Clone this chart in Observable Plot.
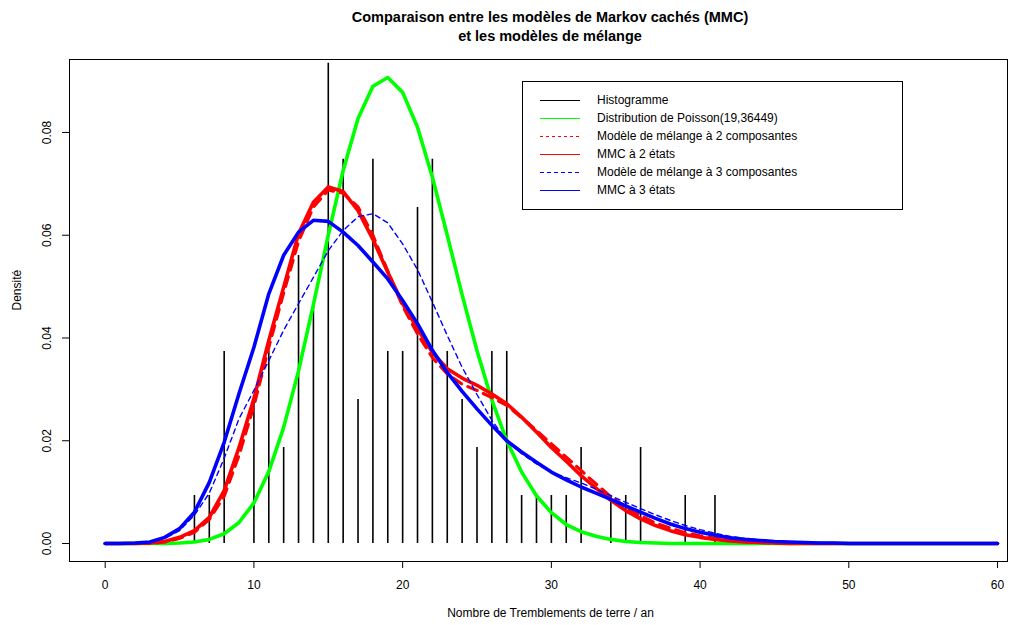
<!DOCTYPE html>
<html>
<head>
<meta charset="utf-8">
<script src="https://cdn.jsdelivr.net/npm/d3@7"></script>
<script src="https://cdn.jsdelivr.net/npm/@observablehq/plot@0.6"></script>
<style>
  body { margin: 0; background: #fff; font-family: "Liberation Sans", Arial, sans-serif; }
  #wrap { position: relative; width: 1023px; height: 625px; overflow: hidden; }
  #title { position: absolute; left: 77px; top: 8px; width: 946px; text-align: center;
           font-weight: bold; font-size: 14.5px; line-height: 19px; color: #000; }
  #chart { position: absolute; left: 0; top: 50px; }
  #legend { position: absolute; left: 522px; top: 81px; width: 379px; height: 127px;
            border: 1px solid #000; background: #fff; }
  .row { position: absolute; left: 0; height: 18px; width: 379px; }
  .row svg { position: absolute; left: 17px; top: 0; }
  .row span { position: absolute; left: 74px; top: 0; line-height: 18px; font-size: 12px; color: #000; white-space: nowrap; }
</style>
</head>
<body>
<div id="wrap">
  <div id="title"></div>
  <div id="chart"></div>
  <div id="legend"></div>
</div>
<script>
// ---- data ----
const titleLines = ["Comparaison entre les modèles de Markov cachés (MMC)", "et les modèles de mélange"];
const xLabel = "Nombre de Tremblements de terre / an";
const yLabel = "Densité";
const xTicks = [0, 10, 20, 30, 40, 50, 60];
const yTicks = [0.00, 0.02, 0.04, 0.06, 0.08];

// support of the curves (number of earthquakes per year)
const support = [0,1,2,3,4,5,6,7,8,9,10,11,12,13,14,15,16,17,18,19,20,21,22,23,24,25,26,27,28,29,30,
                 31,32,33,34,35,36,37,38,39,40,41,42,43,44,45,46,47,48,49,50,51,52,53,54,55,56,57,58,59,60];

// histogram (observed relative frequencies)
const histX = [6,7,8,10,11,12,13,14,15,16,17,18,19,20,21,22,23,24,25,26,27,28,29,30,31,32,34,35,36,39,41];
const histDensity = [0.00935,0.00935,0.03738,0.02804,0.03738,0.01869,0.05607,0.04673,0.09346,0.07477,
                     0.02804,0.07477,0.03738,0.03738,0.06542,0.07477,0.03738,0.02804,0.01869,0.03738,
                     0.03738,0.00935,0.00935,0.00935,0.00935,0.01869,0.00935,0.00935,0.01869,0.00935,0.00935];

const poisson = [0,0,0,0,0,0.0001,0.0003,0.0008,0.0019,0.0041,0.0079,0.0140,0.0226,0.0336,0.0465,0.0600,
                 0.0726,0.0827,0.0890,0.0907,0.0878,0.0810,0.0713,0.0600,0.0484,0.0375,0.0279,0.0200,0.0139,
                 0.0093,0.0060,0.0037,0.0023,0.0014,0.0008,0.0004,0.0002,0.0001,0,0,0,0,0,0,0,0,0,0,0,0,0,
                 0,0,0,0,0,0,0,0,0,0];

const mix2 = [0,0,0,0,0.0003,0.0010,0.0022,0.0047,0.0092,0.0172,0.0268,0.0382,0.0488,0.0588,0.0655,0.0688,
              0.0682,0.0655,0.0600,0.0530,0.0462,0.0408,0.0362,0.0330,0.0310,0.0298,0.0284,0.0269,0.0245,
              0.0220,0.0194,0.0168,0.0142,0.0116,0.0091,0.0071,0.0054,0.0040,0.0030,0.0021,0.0015,0.0010,
              0.0006,0.0004,0.0002,0.0001,0,0,0,0,0,0,0,0,0,0,0,0,0,0,0];

const hmm2 = [0,0,0,0.0001,0.0004,0.0012,0.0025,0.0051,0.0103,0.0187,0.0282,0.0395,0.0499,0.0603,0.0664,0.0694,
              0.0685,0.0648,0.0592,0.0528,0.0467,0.0418,0.0372,0.0340,0.0322,0.0308,0.0291,0.0272,0.0246,
              0.0217,0.0187,0.0160,0.0132,0.0108,0.0084,0.0064,0.0048,0.0035,0.0025,0.0017,0.0012,0.0008,
              0.0005,0.0003,0.0002,0.0001,0,0,0,0,0,0,0,0,0,0,0,0,0,0,0];

const mix3 = [0,0,0,0.0003,0.0010,0.0025,0.0055,0.0098,0.0166,0.0243,0.0298,0.0356,0.0415,0.0467,0.0518,0.0570,
              0.0609,0.0636,0.0642,0.0624,0.0583,0.0533,0.0470,0.0405,0.0343,0.0290,0.0240,0.0200,0.0175,
              0.0155,0.0139,0.0128,0.0118,0.0106,0.0093,0.0080,0.0068,0.0056,0.0045,0.0035,0.0027,0.0020,
              0.0014,0.0010,0.0007,0.0005,0.0003,0.0002,0.0001,0,0,0,0,0,0,0,0,0,0,0,0];

const hmm3 = [0,0,0.0001,0.0003,0.0012,0.0029,0.0061,0.0119,0.0197,0.0292,0.0382,0.0486,0.0561,0.0606,0.0629,0.0627,
              0.0606,0.0580,0.0548,0.0515,0.0473,0.0428,0.0376,0.0333,0.0296,0.0262,0.0230,0.0200,0.0178,
              0.0158,0.0139,0.0124,0.0110,0.0098,0.0086,0.0073,0.0061,0.0049,0.0038,0.0029,0.0022,0.0016,
              0.0011,0.0008,0.0006,0.0004,0.0003,0.0002,0.0001,0.0001,0,0,0,0,0,0,0,0,0,0,0];

const legendLabels = ["Histogramme", "Distribution de Poisson(19,36449)", "Modèle de mélange à 2 composantes",
                      "MMC à 2 états", "Modèle de mélange à 3 composantes", "MMC à 3 états"];
const legendColors = ["#000000", "#00ff00", "#ff0000", "#ff0000", "#0000ff", "#0000ff"];
const legendDash = [null, null, "3,3", null, "4,3", null];

// ---- build ----
document.getElementById("title").innerHTML = titleLines.join("<br>");

const hist = histX.map((x, i) => ({x, d: histDensity[i]}));
const curve = (arr, opts) => Plot.line(support, {x: d => d, y: (d, i) => arr[i], strokeLinejoin: "round", strokeLinecap: "round", ...opts});

const chart = Plot.plot({
  width: 1023, height: 575,
  marginTop: 9, marginBottom: 64, marginLeft: 69, marginRight: 16,
  x: {domain: [-2.4, 60.67]},
  y: {domain: [-0.0035, 0.0942]},
  style: {fontFamily: "'Liberation Sans', Arial, sans-serif", fontSize: "12px", color: "#000", background: "#fff"},
  marks: [
    Plot.ruleX(hist, {x: "x", y1: 0, y2: "d", stroke: "#000", strokeWidth: 1.6}),
    curve(poisson, {stroke: "#00ff00", strokeWidth: 3.6}),
    curve(mix2, {stroke: "#ff0000", strokeWidth: 3.2, strokeDasharray: "10,7"}),
    curve(hmm2, {stroke: "#ff0000", strokeWidth: 3.6}),
    curve(mix3, {stroke: "#0000ff", strokeWidth: 1.4, strokeDasharray: "5,4"}),
    curve(hmm3, {stroke: "#0000ff", strokeWidth: 3.6}),
    Plot.frame({stroke: "#000", strokeWidth: 1}),
    Plot.axisX({ticks: xTicks, tickSize: 7, tickPadding: 12, label: null, fontSize: 12, stroke: "#000"}),
    Plot.axisY({ticks: yTicks, tickSize: 7, tickFormat: () => "", label: null, stroke: "#000"}),
    Plot.text(yTicks, {y: d => d, frameAnchor: "left", dx: -22, rotate: -90, text: d => d3.format(".2f")(d),
                       textAnchor: "middle", lineAnchor: "middle", fontSize: 12, fill: "#000"}),
    Plot.text([yLabel], {frameAnchor: "left", dx: -52, rotate: -90, text: d => d, fontSize: 12, fill: "#000"}),
    Plot.text([xLabel], {frameAnchor: "bottom", dy: 55, dx: 12, text: d => d, fontSize: 12, fill: "#000"})
  ]
});
document.getElementById("chart").appendChild(chart);

// legend
const leg = document.getElementById("legend");
legendLabels.forEach((lab, i) => {
  const row = document.createElement("div");
  row.className = "row";
  row.style.top = (9 + 18 * i) + "px";
  const dash = legendDash[i] ? ` stroke-dasharray="${legendDash[i]}"` : "";
  row.innerHTML = `<svg width="40" height="18"><line x1="0" x2="40" y1="9.5" y2="9.5" stroke="${legendColors[i]}" stroke-width="1.2"${dash}/></svg><span>${lab}</span>`;
  leg.appendChild(row);
});
</script>
</body>
</html>
